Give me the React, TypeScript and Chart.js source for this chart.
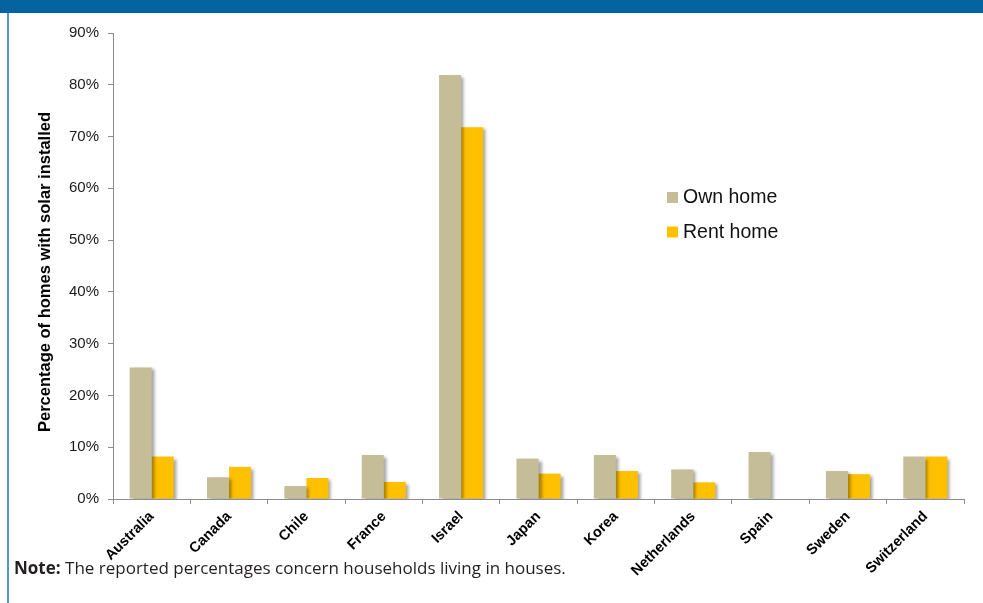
import React, { useEffect, useRef } from "react";
import { Chart, registerables } from "chart.js";

Chart.register(...registerables);

const categories = [
  "Australia", "Canada", "Chile", "France", "Israel", "Japan",
  "Korea", "Netherlands", "Spain", "Sweden", "Switzerland",
];
const ownHome = [25.4, 4.2, 2.5, 8.5, 81.9, 7.8, 8.5, 5.7, 9.1, 5.4, 8.2];
const rentHome: (number | null)[] = [8.2, 6.2, 4.05, 3.3, 71.8, 4.9, 5.4, 3.2, null, 4.8, 8.2];
const seriesNames = ["Own home", "Rent home"];
const yTitle = "Percentage of homes with solar installed";

const shadowPlugin = {
  id: "barShadow",
  beforeDatasetsDraw(chart: any) {
    const ctx = chart.ctx;
    ctx.save();
    ctx.shadowColor = "rgba(0,0,0,0.35)";
    ctx.shadowBlur = 3;
    ctx.shadowOffsetX = 3;
    ctx.shadowOffsetY = 2;
  },
  afterDatasetsDraw(chart: any) {
    chart.ctx.restore();
  },
};

const legendPlugin = {
  id: "innerLegend",
  afterDraw(chart: any) {
    const ctx = chart.ctx;
    ctx.save();
    const x = 667;
    const ys = [197.5, 232];
    chart.data.datasets.forEach((ds: any, i: number) => {
      ctx.fillStyle = ds.backgroundColor;
      ctx.fillRect(x, ys[i] - 5.5, 11, 11);
      ctx.fillStyle = "#111";
      ctx.font = "19.5px 'Liberation Sans', Arial, sans-serif";
      ctx.textBaseline = "middle";
      ctx.textAlign = "left";
      ctx.fillText(ds.label, x + 16, ys[i] + 0.5);
    });
    ctx.restore();
  },
};

const yTitlePlugin = {
  id: "yTitleDraw",
  afterDraw(chart: any) {
    const ctx = chart.ctx;
    ctx.save();
    ctx.translate(45, 272);
    ctx.rotate(-Math.PI / 2);
    ctx.fillStyle = "#000";
    ctx.font = "bold 16.5px 'Liberation Sans', Arial, sans-serif";
    ctx.textAlign = "center";
    ctx.textBaseline = "middle";
    ctx.fillText(yTitle, 0, 0);
    ctx.restore();
  },
};

export default function App() {
  const ref = useRef<HTMLCanvasElement>(null);

  useEffect(() => {
    document.body.style.margin = "0";
    const chart = new Chart(ref.current!, {
      type: "bar",
      data: {
        labels: categories,
        datasets: [
          {
            label: seriesNames[0],
            data: ownHome,
            backgroundColor: "#C4BD97",
            categoryPercentage: 0.57,
            barPercentage: 1,
          },
          {
            label: seriesNames[1],
            data: rentHome,
            backgroundColor: "#FFC000",
            categoryPercentage: 0.57,
            barPercentage: 1,
          },
        ],
      },
      options: {
        animation: false,
        responsive: false,
        maintainAspectRatio: false,
        layout: { padding: { top: 33, right: 19, left: 0, bottom: 0 } },
        plugins: {
          legend: { display: false },
          tooltip: { enabled: false },
        },
        scales: {
          x: {
            grid: {
              display: true,
              drawOnChartArea: false,
              tickLength: 5,
              color: "#8c8c8c",
              offset: true,
            },
            border: { color: "#8c8c8c" },
            ticks: {
              minRotation: 45,
              maxRotation: 45,
              color: "#000",
              padding: 4,
              font: { family: "'Liberation Sans', Arial, sans-serif", size: 14.5, weight: "bold" },
            },
            afterFit(scale: any) {
              scale.height = 104;
            },
          },
          y: {
            min: 0,
            max: 90,
            ticks: {
              stepSize: 10,
              color: "#1a1a1a",
              padding: 9,
              font: { family: "'Liberation Sans', Arial, sans-serif", size: 15 },
              callback: (v: any) => v + "%",
            },
            grid: {
              display: true,
              drawOnChartArea: false,
              tickLength: 5,
              color: "#8c8c8c",
            },
            border: { color: "#8c8c8c" },
            title: { display: false },
            afterFit(scale: any) {
              scale.width = 113;
            },
          },
        },
      },
      plugins: [shadowPlugin, legendPlugin, yTitlePlugin],
    } as any);
    return () => chart.destroy();
  }, []);

  return (
    <div style={{ position: "relative", width: 983, height: 603, background: "#fff", overflow: "hidden" }}>
      <canvas ref={ref} width={983} height={603} style={{ position: "absolute", left: 0, top: 0, width: 983, height: 603 }} />
      <div style={{ position: "absolute", left: 0, top: 0, width: 983, height: 13, background: "#0563a0" }} />
      <div style={{ position: "absolute", left: 7, top: 13, width: 2, height: 590, background: "#4f97cf" }} />
      <div
        style={{
          position: "absolute",
          left: 14,
          top: 556,
          fontFamily: "'Open Sans', sans-serif",
          fontSize: 17,
          color: "#231f20",
          whiteSpace: "nowrap",
          lineHeight: "24px",
        }}
      >
        <b style={{ fontWeight: 700 }}>Note:</b> The reported percentages concern households living in houses.
      </div>
    </div>
  );
}
